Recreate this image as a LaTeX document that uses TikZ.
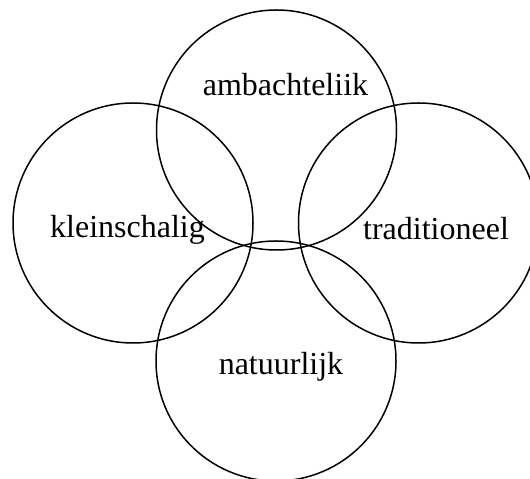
\documentclass[tikz,border=0pt]{standalone}
\usepackage{fontspec}
\setmainfont{Liberation Serif}
\begin{document}
\begin{tikzpicture}[x=1pt,y=1pt,
  ring/.style={draw=black,circle,line width=1.5pt,minimum size=240pt,inner sep=0pt},
  lbl/.style={font=\fontsize{32}{36}\selectfont,inner sep=0pt,anchor=base}]
\useasboundingbox (0,0) rectangle (530,479);
\clip (0,0) rectangle (530,479);
\node[ring] (top) at (276.5,349) {};
\node[ring] (left) at (133,256) {};
\node[ring] (right) at (418.5,256) {};
\node[ring] (bottom) at (276,118) {};
\node[lbl] (ta) at (285.5,383) {ambachteliik};
\node[lbl] (tk) at (127.5,241) {kleinschalig};
\node[lbl] (tt) at (436,239) {traditioneel};
\node[lbl] (tn) at (281,104) {natuurlijk};
\end{tikzpicture}
\end{document}
